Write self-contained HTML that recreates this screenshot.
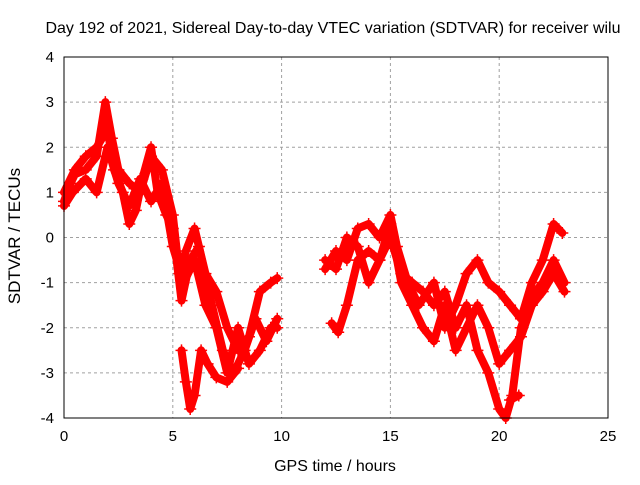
<!DOCTYPE html>
<html><head><meta charset="utf-8"><style>
body{margin:0;background:#fff;}
svg text{font-family:"Liberation Sans",sans-serif;font-size:15px;fill:#000;}
svg text.big{font-size:16px;}
</style></head><body>
<svg id="chart" width="640" height="480" xmlns="http://www.w3.org/2000/svg">
<text class="big" x="333" y="33" text-anchor="middle">Day 192 of 2021, Sidereal Day-to-day VTEC variation (SDTVAR) for receiver wilu</text>
<text class="big" x="335" y="471" text-anchor="middle">GPS time / hours</text>
<text class="big" style="font-size:17px" transform="translate(20,236) rotate(-90)" text-anchor="middle">SDTVAR / TECUs</text>
<g id="grid"></g><g id="series"></g><g id="axes"></g>
</svg>
<script>
const xTicks=[0,5,10,15,20,25];
const yTicks=[-4,-3,-2,-1,0,1,2,3,4];
const sA_t=[0,0.3,0.5,1,1.5,1.9,2.2,2.5,3,3.5,4,4.5,5,5.3,5.6,6,6.5,7,7.5,8,8.5,9,9.5,9.8];
const sA_v=[0.8,1.2,1.4,1.5,1.8,3.0,2.2,1.5,1.2,1.0,1.8,1.5,0.5,-0.8,-0.3,0.2,-0.8,-1.2,-2.0,-2.5,-2.2,-1.2,-1.0,-0.9];
const sB_t=[0,0.5,1,1.5,2,2.3,2.7,3,3.3,3.6,4,4.3,4.7,5,5.4,5.8,6.2,6.8,7.3,7.8,8.3,8.8,9.3,9.8];
const sB_v=[1.0,1.5,1.8,2.0,2.4,1.5,1.0,0.3,0.6,1.3,2.0,1.0,0.5,0.2,-1.4,-0.5,-0.2,-1.5,-2.5,-3.0,-2.5,-1.8,-2.3,-1.8];
const sC_t=[0,0.4,1,1.5,2,2.5,3,3.5,4,4.5,5,5.5,6,6.5,7,7.5,8,8.5,9,9.5,9.8];
const sC_v=[0.7,1.0,1.3,1.0,2.0,1.2,0.7,1.3,0.8,1.2,-0.2,-1.0,-0.5,-1.5,-2.0,-3.0,-2.0,-2.8,-2.5,-2.0,-2.0];
const sD_t=[5.4,5.6,5.8,6.0,6.3,6.6,7.0,7.5,8];
const sD_v=[-2.5,-3.2,-3.8,-3.5,-2.5,-2.8,-3.1,-3.2,-2.9];
const sE_t=[12,12.5,13,13.5,14,14.5,15,15.3,15.8,16.3,17,17.5,18,18.5,19,19.5,20,20.5,21,21.5,22,22.5,22.9];
const sE_v=[-0.7,-0.3,-0.5,0.2,0.3,0,0.5,-0.2,-1.0,-1.5,-1.0,-2.0,-1.5,-0.8,-0.5,-1.0,-1.2,-1.5,-1.8,-1.0,-0.5,0.3,0.1];
const sF_t=[12.3,12.6,13,13.5,14,14.5,15,15.5,16,16.5,17,17.5,18,18.5,19,19.5,20,20.3,20.6,21,21.5,22,22.5,23];
const sF_v=[-1.9,-2.1,-1.5,-0.5,-0.3,-0.5,0,-0.8,-1.0,-1.2,-1.5,-1.2,-2.0,-1.5,-2.5,-3.0,-3.8,-4.0,-3.5,-2.0,-1.3,-1.0,-0.5,-1.0];
const sG_t=[12,12.5,13,13.5,14,14.5,15,15.5,16,16.5,17,17.5,18,18.5,19,19.5,20,20.5,21,21.5,22,22.5,23];
const sG_v=[-0.5,-0.7,0,-0.2,-1.0,-0.5,0.3,-1.0,-1.5,-2.0,-2.3,-1.5,-2.5,-2.0,-1.5,-2.0,-2.8,-2.5,-2.2,-1.5,-1.2,-0.8,-1.2];
const sH_t=[20.5,20.9];
const sH_v=[-3.6,-3.5];

const X0=64,X1=608,Y0=418,Y1=57;
const xs=t=>X0+(t-0)/(25-0)*(X1-X0);
const ys=v=>Y0-(v+4)/8*(Y0-Y1);
const NS="http://www.w3.org/2000/svg";
const grid=document.getElementById('grid'),axes=document.getElementById('axes'),ser=document.getElementById('series');
function mk(tag,attrs,parent){const e=document.createElementNS(NS,tag);for(const k in attrs)e.setAttribute(k,attrs[k]);parent.appendChild(e);return e;}
xTicks.forEach(t=>{
  if(t>0&&t<25){const g=mk('line',{x1:xs(t),x2:xs(t),y1:Y1,y2:Y0,stroke:'#a0a0a0','stroke-dasharray':'3,3'},grid);
  
  }
  const l=mk('text',{x:xs(t),y:Y0+23,'text-anchor':'middle'},axes);l.textContent=t;
  
  
});
yTicks.forEach(v=>{
  if(v>-4&&v<4){const g=mk('line',{x1:X0,x2:X1,y1:ys(v),y2:ys(v),stroke:'#a0a0a0','stroke-dasharray':'3,3'},grid);
  
  }
  const l=mk('text',{x:X0-10,y:ys(v)+5,'text-anchor':'end'},axes);l.textContent=v;
  
  
});
const b=mk('rect',{x:X0,y:Y1,width:X1-X0,height:Y0-Y1,fill:'none',stroke:'#000','stroke-width':1},axes);


const all=[[sA_t,sA_v],[sB_t,sB_v],[sC_t,sC_v],[sD_t,sD_v],[sE_t,sE_v],[sF_t,sF_v],[sG_t,sG_v],[sH_t,sH_v]];
all.forEach(([T,V])=>{
  const pts=T.map((t,i)=>xs(t)+','+ys(V[i])).join(' ');
  const p=mk('polyline',{points:pts,fill:'none',stroke:'#ff0000','stroke-width':8,'stroke-linejoin':'round','stroke-linecap':'round'},ser);
  
  
  T.forEach((t,i)=>{
    const x=xs(t),y=ys(V[i]);
    const m=mk('path',{d:`M${x-6},${y}H${x+6}M${x},${y-6}V${y+6}`,stroke:'#ff0000','stroke-width':1.5},ser);
    
    
  });
});
</script>
</body></html>
